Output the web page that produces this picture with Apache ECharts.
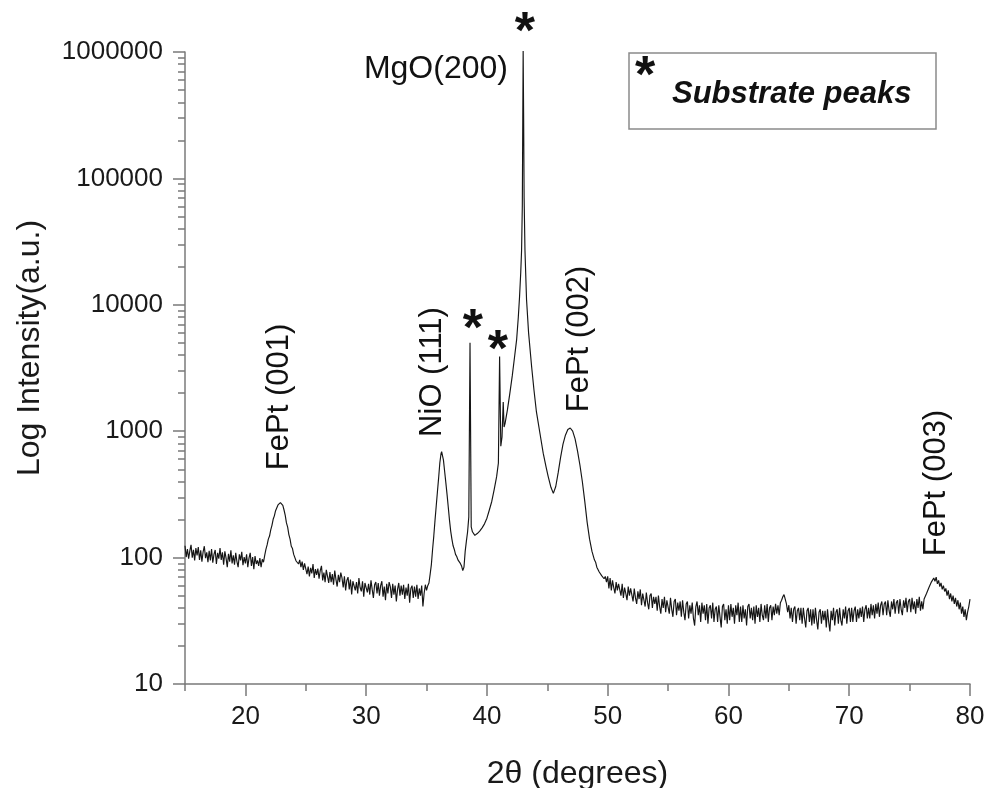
<!DOCTYPE html>
<html>
<head>
<meta charset="utf-8">
<script src="https://cdn.jsdelivr.net/npm/echarts@6/dist/echarts.min.js"></script>
<style>html,body{margin:0;padding:0;background:#fff;}#chart{width:989px;height:788px;}</style>
</head>
<body>
<div id="chart"></div>
<script>
// ---- DATA ----
// Intensities sampled every 0.1 deg from 15.0 to 35.0
const lowAngleStart = 15.0;
const lowAngleIntensity = [
  124,101,117,98,113,126,100,115,95,119,
  104,121,96,114,93,111,123,99,110,92,
  113,95,117,91,106,115,89,109,98,119,
  96,110,88,112,99,84,107,93,114,90,
  104,88,109,93,84,106,95,111,87,101,
  90,106,84,99,109,86,101,81,103,89,
  95,86,99,84,97,92,104,116,126,140,
  148,166,180,201,214,235,242,261,264,272,
  270,259,238,216,188,174,152,140,123,118,
  106,103,94,97,89,96,84,93,80,90,
  88,74,85,71,83,75,89,69,81,73,
  82,68,79,86,66,76,64,80,71,63,
  77,64,74,61,79,67,59,73,64,76,
  69,58,71,55,66,70,56,67,51,65,
  67,55,64,52,69,58,54,65,49,63,
  65,53,62,51,66,56,48,61,64,52,
  63,50,60,65,49,59,46,62,52,64,
  59,48,62,51,60,45,56,63,50,60,
  51,61,47,58,50,62,44,57,60,48,
  59,49,61,47,57,50,60,41,52,61,
  55
];
// Peak region 35.1 - 49.9 deg: [2theta, intensity]
const peakRegion = [
  [35.1,60],[35.2,63],[35.3,74],[35.4,88],[35.5,116],[35.6,148],[35.7,196],[35.8,255],[35.9,330],
  [36.0,425],[36.1,560],[36.2,665],[36.25,690],[36.3,675],[36.4,590],[36.5,480],[36.6,390],[36.7,315],
  [36.8,250],[36.9,198],[37.0,162],[37.1,140],[37.2,124],[37.3,116],[37.4,106],[37.5,102],[37.6,96],
  [37.7,94],[37.8,90],[37.9,86],[38.0,79],[38.1,84],[38.2,112],[38.3,135],[38.4,160],[38.5,210],
  [38.6,5000],[38.7,175],[38.8,160],[38.9,156],[39.0,150],[39.2,155],[39.4,162],[39.6,172],[39.8,185],
  [40.0,205],[40.2,238],[40.4,278],[40.6,345],[40.8,435],[40.95,560],[41.05,3900],[41.15,760],
  [41.25,900],[41.35,1700],[41.42,1080],[41.5,1150],[41.7,1480],[41.9,2000],[42.1,2750],[42.3,3950],
  [42.46,5300],[42.6,8000],[42.7,11500],[42.8,18000],[42.87,27000],[42.93,60000],[42.97,300000],
  [43.0,1020000],[43.04,300000],[43.08,70000],[43.15,27000],[43.28,11000],[43.45,6000],[43.7,3250],
  [43.9,2100],[44.1,1420],[44.4,950],[44.66,670],[44.9,520],[45.07,440],[45.3,360],[45.5,322],
  [45.7,365],[45.9,470],[46.1,620],[46.3,790],[46.5,930],[46.7,1030],[46.9,1060],[47.1,1000],
  [47.3,870],[47.5,700],[47.7,540],[47.9,400],[48.1,280],[48.3,190],[48.5,140],[48.7,112],[48.9,96],
  [49.0,92],[49.1,84],[49.2,86],[49.3,77],[49.4,79],[49.5,72],[49.6,74],[49.7,68],[49.8,71],[49.9,64]
];
// Intensities sampled every 0.1 deg from 50.0 to 80.0
const highAngleStart = 50.0;
const highAngleIntensity = [
  71,57,69,55,66,58,52,64,55,62,
  61,50,62,48,58,52,46,59,50,57,
  56,45,57,48,43,54,47,56,42,52,
  52,41,53,44,39,50,52,40,49,43,
  49,38,50,41,36,47,40,49,37,46,
  47,36,48,39,34,45,47,35,44,38,
  45,34,46,37,32,43,45,33,42,36,
  44,33,29,41,45,35,42,31,44,36,
  42,32,43,30,40,42,33,44,31,39,
  41,31,42,34,28,41,43,32,39,30,
  42,32,43,34,40,30,42,35,44,31,
  41,31,42,33,39,29,41,43,33,40,
  32,41,30,42,34,40,31,43,35,32,
  42,33,43,31,40,42,32,41,35,43,
  36,42,35,44,46,49,51,47,43,37,
  42,33,40,31,39,41,30,38,40,32,
  40,30,40,33,28,38,40,31,39,29,
  39,30,40,32,27,37,39,30,38,32,
  38,28,39,31,26,38,32,40,29,37,
  39,30,40,32,29,39,33,41,30,38,
  40,31,40,31,38,41,31,39,33,40,
  34,41,31,39,42,33,40,33,43,35,
  42,33,43,36,44,34,42,45,35,43,
  45,35,46,38,34,45,39,47,36,44,
  46,36,47,39,35,46,40,48,37,45,
  47,37,48,39,45,36,47,40,49,38,
  45,39,47,46,52,53,58,59,64,64,
  69,65,70,62,66,59,63,56,60,54,
  57,50,55,47,52,45,50,43,48,41,
  46,39,44,36,41,34,39,32,37,41,
  47
];
const sampleStep = 0.1;
const xMajorTicks = [20,30,40,50,60,70,80];
const xMinorTicks = [15,25,35,45,55,65,75];
const yMajorTicks = [10,100,1000,10000,100000,1000000];
const yMinorTicks = [];
[10,100,1000,10000,100000].forEach(d => { for (let m = 2; m <= 9; m++) yMinorTicks.push(d * m); });

// annotation anchors in data coordinates [2theta, intensity]
const peakLabels = [
  {text: 'FePt (001)', at: [22.86, 1866]},
  {text: 'NiO (111)', at: [35.45, 2940]},
  {text: 'FePt (002)', at: [47.66, 5360]},
  {text: 'FePt (003)', at: [77.25, 389]}
];
const mgoLabel = {text: 'MgO(200)', at: [41.74, 733000]};
const substrateStars = [[43.15, 1665000], [38.84, 7450], [40.91, 5080]];

// ---- build series ----
const pattern = [];
lowAngleIntensity.forEach((v, i) => pattern.push([+(lowAngleStart + i * sampleStep).toFixed(2), v]));
peakRegion.forEach(p => pattern.push(p));
highAngleIntensity.forEach((v, i) => pattern.push([+(highAngleStart + i * sampleStep).toFixed(2), v]));

const FONT = '"Liberation Sans", Arial, Helvetica, sans-serif';
const axisGrey = '#7a7a7a';

const chart = echarts.init(document.getElementById('chart'), null, {renderer: 'canvas'});
chart.setOption({
  animation: false,
  backgroundColor: '#fff',
  grid: {left: 185, right: 19, top: 52, bottom: 104, containLabel: false, outerBoundsMode: 'none'},
  xAxis: [{
    type: 'value', min: 15, max: 80, position: 'bottom',
    axisLine: {show: true, onZero: false, lineStyle: {color: axisGrey, width: 1.5}},
    axisTick: {show: true, length: 12, customValues: xMajorTicks, lineStyle: {color: axisGrey, width: 1.5}},
    axisLabel: {customValues: xMajorTicks, margin: 20, fontSize: 26, color: '#1a1a1a', fontFamily: FONT},
    splitLine: {show: false},
    name: '2θ (degrees)', nameLocation: 'middle', nameGap: 74,
    nameTextStyle: {fontSize: 32, color: '#1a1a1a', fontFamily: FONT}
  }, {
    type: 'value', min: 15, max: 80, position: 'bottom', gridIndex: 0,
    axisLine: {show: false, onZero: false},
    axisTick: {show: true, length: 7, customValues: xMinorTicks, lineStyle: {color: axisGrey, width: 1.5}},
    axisLabel: {show: false},
    splitLine: {show: false}
  }],
  yAxis: [{
    type: 'log', logBase: 10, min: 10, max: 1000000, position: 'left',
    axisLine: {show: true, onZero: false, lineStyle: {color: axisGrey, width: 1.5}},
    axisTick: {show: true, length: 12, customValues: yMajorTicks, lineStyle: {color: axisGrey, width: 1.5}},
    axisLabel: {customValues: yMajorTicks, margin: 22, fontSize: 26, color: '#1a1a1a', fontFamily: FONT,
      formatter: v => String(Math.round(v))},
    splitLine: {show: false},
    minorTick: {show: false}
  }, {
    type: 'log', logBase: 10, min: 10, max: 1000000, position: 'left', gridIndex: 0,
    axisLine: {show: false, onZero: false},
    axisTick: {show: true, length: 7, customValues: yMinorTicks, lineStyle: {color: axisGrey, width: 1.5}},
    axisLabel: {show: false},
    splitLine: {show: false}
  }],
  series: [{
    type: 'line', name: 'XRD', data: pattern, xAxisIndex: 0, yAxisIndex: 0,
    showSymbol: false, symbol: 'none', sampling: null, smooth: false, clip: false,
    lineStyle: {color: '#151515', width: 1.15}
  }]
});

// ---- annotations placed via the axes' own conversion ----
const px = p => chart.convertToPixel({xAxisIndex: 0, yAxisIndex: 0}, p);
const graphics = [];
peakLabels.forEach(l => {
  const [x, y] = px(l.at);
  graphics.push({type: 'text', x: x, y: y, rotation: Math.PI / 2,
    style: {text: l.text, font: '31px ' + FONT, fill: '#111', align: 'center', verticalAlign: 'middle'}});
});
{
  const [x, y] = px(mgoLabel.at);
  graphics.push({type: 'text', x: x, y: y,
    style: {text: mgoLabel.text, font: '32px ' + FONT, fill: '#111', align: 'right', verticalAlign: 'middle'}});
}
substrateStars.forEach(s => {
  const [x, y] = px(s);
  graphics.push({type: 'text', x: x, y: y + 10,
    style: {text: '*', font: 'bold 52px ' + FONT, fill: '#111', align: 'center', verticalAlign: 'middle'}});
});
// y axis title
graphics.push({type: 'text', x: 30, y: 348, rotation: Math.PI / 2,
  style: {text: 'Log Intensity(a.u.)', font: '32px ' + FONT, fill: '#1a1a1a', align: 'center', verticalAlign: 'middle'}});
// legend box
graphics.push({type: 'rect', shape: {x: 629, y: 53, width: 307, height: 76},
  style: {fill: '#fff', stroke: '#8a8a8a', lineWidth: 1.5}});
graphics.push({type: 'text', x: 645, y: 78,
  style: {text: '*', font: 'bold 52px ' + FONT, fill: '#111', align: 'center', verticalAlign: 'middle'}});
graphics.push({type: 'text', x: 672, y: 94,
  style: {text: 'Substrate peaks', font: 'italic bold 31px ' + FONT, fill: '#111', align: 'left', verticalAlign: 'middle'}});
chart.setOption({graphic: graphics});
</script>
</body>
</html>
